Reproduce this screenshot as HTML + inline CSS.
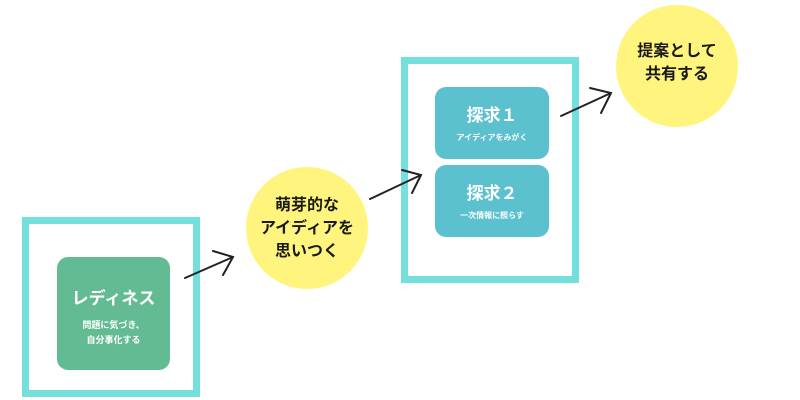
<!DOCTYPE html>
<html><head><meta charset="utf-8"><style>
body{margin:0;width:800px;height:400px;background:#fff;position:relative;overflow:hidden;font-family:"Liberation Sans","Noto Sans CJK JP",sans-serif}
.f{position:absolute;border:7px solid #74e0de;box-sizing:border-box}
.b{position:absolute;border-radius:11px;color:#fff;text-align:center;box-sizing:border-box}
.c{position:absolute;border-radius:50%;background:#fff57e;text-align:center;font-weight:bold;color:#1a1a1a;font-size:16px;line-height:23px;display:flex;align-items:center;justify-content:center}
</style></head><body>
<div class="f" style="left:22px;top:217px;width:178px;height:180px"></div>
<div class="b" style="left:57px;top:257px;width:113px;height:113px;background:#63bb93;padding-top:27px">
<div style="font-size:17px;font-weight:bold">レディネス</div>
<div style="font-size:9px;line-height:15px;margin-top:9px;font-weight:bold">問題に気づき、<br>自分事化する</div></div>
<div class="c" style="left:246px;top:167px;width:122px;height:122px">萌芽的な<br>アイディアを<br>思いつく</div>
<div class="f" style="left:401px;top:57px;width:178px;height:226px"></div>
<div class="b" style="left:435px;top:87px;width:114px;height:72px;background:#5bc1cf;padding-top:14px">
<div style="font-size:17px;font-weight:bold">探求１</div><div style="font-size:8px;margin-top:6px;font-weight:bold">アイディアをみがく</div></div>
<div class="b" style="left:435px;top:165px;width:114px;height:72px;background:#5bc1cf;padding-top:14px">
<div style="font-size:17px;font-weight:bold">探求２</div><div style="font-size:8px;margin-top:6px;font-weight:bold">一次情報に照らす</div></div>
<div class="c" style="left:616px;top:5px;width:122px;height:122px;padding-bottom:6px;box-sizing:border-box">提案として<br>共有する</div>
<svg width="800" height="400" style="position:absolute;left:0;top:0" fill="none" stroke="#222" stroke-width="2" stroke-linecap="round">
<path d="M185 278 L233 257 M213 251 L233 257 L223 275"/>
<path d="M370 199 L421 175 M402 170 L421 175 L412 193"/>
<path d="M561 116 L611 93 M590 88 L611 93 L601 113"/>
</svg>
</body></html>
